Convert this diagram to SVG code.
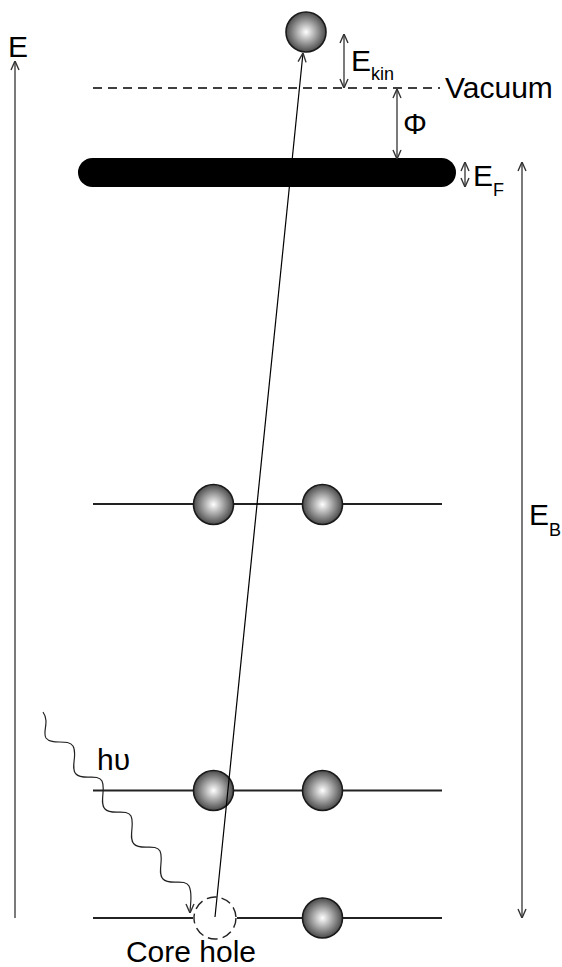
<svg xmlns="http://www.w3.org/2000/svg" width="562" height="967" viewBox="0 0 562 967">
<style>
text{font-family:"Liberation Sans",Arial,sans-serif;fill:#000}
.big{font-size:30px}
.sub{font-size:18px}
.lvl{stroke:#222;stroke-width:1.8;fill:none}
.arr{stroke:#333;stroke-width:1.3;fill:none}
.el{fill:url(#g);stroke:#1a1a1a;stroke-width:1.6}
</style>
<defs>
<radialGradient id="g" cx="0.5" cy="0.5" r="0.5">
<stop offset="0" stop-color="#ffffff"/>
<stop offset="1" stop-color="#4a4a4a"/>
</radialGradient>
<marker id="ah" viewBox="0 0 10 10" refX="10" refY="5" markerWidth="10" markerHeight="10" markerUnits="userSpaceOnUse" orient="auto-start-reverse">
<path d="M1,1 L10,5 L1,9" fill="none" stroke="#333" stroke-width="1.4"/>
</marker>
</defs>
<g id="axis-E">
<line class="arr" x1="15" y1="918" x2="15" y2="61" marker-end="url(#ah)"/>
<text class="big" x="8" y="57">E</text>
</g>
<g id="vacuum">
<line x1="93" y1="88" x2="440" y2="88" stroke="#000" stroke-width="1.5" stroke-dasharray="9,6"/>
<text class="big" x="445" y="98">Vacuum</text>
</g>
<g id="fermi">
<rect x="78" y="158" width="378" height="29" rx="14.5" fill="#000"/>
</g>
<g id="levels">
<line class="lvl" x1="93" y1="504" x2="442" y2="504"/>
<line class="lvl" x1="93" y1="790.5" x2="442" y2="790.5"/>
<line class="lvl" x1="93" y1="918" x2="193" y2="918"/>
<line class="lvl" x1="237" y1="918" x2="442" y2="918"/>
</g>
<g id="electrons">
<circle class="el" cx="306" cy="32" r="20"/>
<circle class="el" cx="213.5" cy="504.5" r="20"/>
<circle class="el" cx="322.5" cy="504.5" r="20"/>
<circle class="el" cx="213.5" cy="790.5" r="20"/>
<circle class="el" cx="322.5" cy="790.5" r="20"/>
<circle class="el" cx="322.5" cy="918" r="20"/>
</g>
<g id="core-hole">
<circle cx="215" cy="918" r="21" fill="none" stroke="#222" stroke-width="1.4" stroke-dasharray="10,5"/>
<text class="big" x="191" y="962" text-anchor="middle">Core hole</text>
</g>
<g id="connectors">
<line x1="215" y1="917" x2="303" y2="53" stroke="#000" stroke-width="1.2" marker-end="url(#ah)"/>
<line class="arr" x1="344" y1="34" x2="344" y2="88" marker-start="url(#ah)" marker-end="url(#ah)"/>
<line class="arr" x1="397" y1="89" x2="397" y2="159" marker-start="url(#ah)" marker-end="url(#ah)"/>
<line class="arr" x1="465" y1="162" x2="465" y2="187" marker-start="url(#ah)" marker-end="url(#ah)"/>
<line class="arr" x1="522" y1="162" x2="522" y2="918" marker-start="url(#ah)" marker-end="url(#ah)"/>
<path d="M43,712 C50,722 42,732 46,738 C52,746 68,738 73,746 C78,754 70,768 76,774 C82,781 98,773 102,781 C106,789 99,803 105,809 C111,816 127,808 131,816 C135,824 128,838 134,844 C140,851 156,843 160,851 C164,859 157,873 163,879 C169,886 185,878 189,886 C193,894 190,905 190,913" fill="none" stroke="#222" stroke-width="1.2" marker-end="url(#ah)"/>
</g>
<g id="labels">
<text class="big" x="351" y="71">E<tspan class="sub" dy="9">kin</tspan></text>
<text class="big" x="403" y="134">Φ</text>
<text class="big" x="473" y="186">E<tspan class="sub" dy="10">F</tspan></text>
<text class="big" x="529" y="525">E<tspan class="sub" dy="11">B</tspan></text>
<text class="big" x="97" y="770">hυ</text>
</g>
</svg>
